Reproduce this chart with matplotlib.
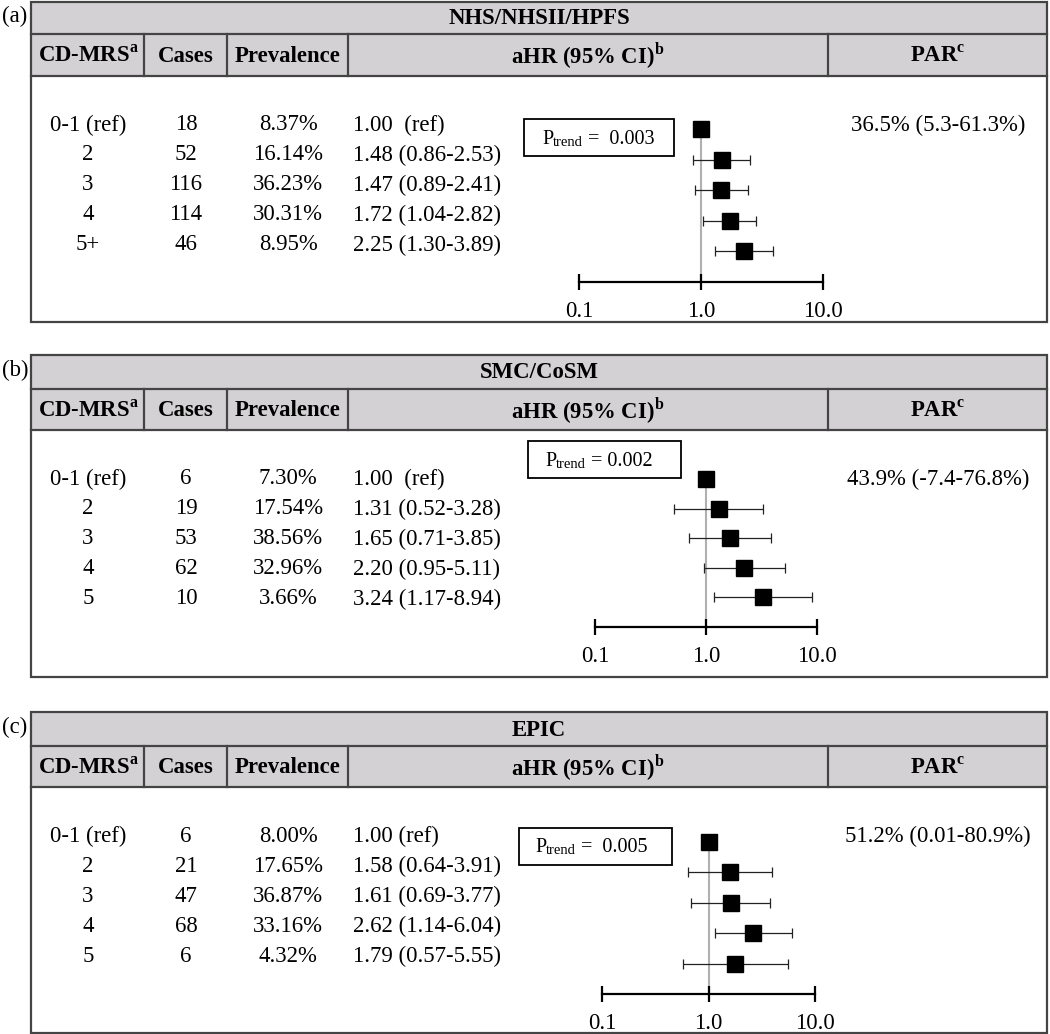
import matplotlib
matplotlib.use('Agg')
import matplotlib.pyplot as plt
from matplotlib.patches import Rectangle

plt.rcParams['font.family'] = ['Liberation Serif', 'DejaVu Serif']
plt.rcParams['mathtext.fontset'] = 'custom'
plt.rcParams['mathtext.rm'] = 'Liberation Serif'
plt.rcParams['mathtext.bf'] = 'Liberation Serif:bold'

# ---- data ----
cohorts = ['NHS/NHSII/HPFS', 'SMC/CoSM', 'EPIC']
panel_tags = ['(a)', '(b)', '(c)']
col_headers = ['CD-MRS$^{\\mathbf{a}}$', 'Cases', 'Prevalence',
               'aHR (95% CI)$^{\\mathbf{b}}$', 'PAR$^{\\mathbf{c}}$']

scores = [['0-1 (ref)', '2', '3', '4', '5+'],
          ['0-1 (ref)', '2', '3', '4', '5'],
          ['0-1 (ref)', '2', '3', '4', '5']]
cases = [[18, 52, 116, 114, 46],
         [6, 19, 53, 62, 10],
         [6, 21, 47, 68, 6]]
prevalence = [[8.37, 16.14, 36.23, 30.31, 8.95],
              [7.30, 17.54, 38.56, 32.96, 3.66],
              [8.00, 17.65, 36.87, 33.16, 4.32]]
hr = [[1.00, 1.48, 1.47, 1.72, 2.25],
      [1.00, 1.31, 1.65, 2.20, 3.24],
      [1.00, 1.58, 1.61, 2.62, 1.79]]
ci_lo = [[1.00, 0.86, 0.89, 1.04, 1.30],
         [1.00, 0.52, 0.71, 0.95, 1.17],
         [1.00, 0.64, 0.69, 1.14, 0.57]]
ci_hi = [[1.00, 2.53, 2.41, 2.82, 3.89],
         [1.00, 3.28, 3.85, 5.11, 8.94],
         [1.00, 3.91, 3.77, 6.04, 5.55]]
ref_labels = ['1.00  (ref)', '1.00  (ref)', '1.00 (ref)']
p_trend = ['=  0.003', '= 0.002', '=  0.005']
par = ['36.5% (5.3-61.3%)', '43.9% (-7.4-76.8%)', '51.2% (0.01-80.9%)']
axis_ticks = [0.1, 1.0, 10.0]
axis_labels = ['0.1', '1.0', '10.0']

# ---- layout in pixels (1050 x 1034 canvas) ----
W, H = 1050, 1034
box_left, box_right = 31, 1047
col_div = [144, 227, 348, 828]
col_centers = [88, 186, 288, 588, 938]
panel_rows = [(2, 34, 76, 322), (355, 389, 430, 677), (712, 746, 787, 1033)]
text_row0 = [125, 479, 836]
row_step = 30
forest_x = [(579, 823), (595, 817), (602, 815)]
forest_y = [(129, 282), (479, 627), (842, 994)]
pbox = [(524, 119, 674, 156), (528, 441, 681, 478), (519, 828, 672, 865)]
ptext_x = [542, 545, 535]

FS = 16.4
edge = '#444444'
fill = '#d3d1d3'

fig = plt.figure(figsize=(W / 100, H / 100), dpi=100)
bg = fig.add_axes([0, 0, 1, 1])
bg.set_xlim(0, W)
bg.set_ylim(H, 0)
bg.axis('off')

for p in range(3):
    top, t_bot, h_bot, bot = panel_rows[p]
    # grey title + header rows
    bg.add_patch(Rectangle((box_left, top), box_right - box_left, h_bot - top,
                           facecolor=fill, edgecolor='none', zorder=1))
    bg.add_patch(Rectangle((box_left, top), box_right - box_left, bot - top,
                           facecolor='none', edgecolor=edge, lw=1.6, zorder=3))
    bg.plot([box_left, box_right], [t_bot, t_bot], color=edge, lw=1.6, zorder=3)
    bg.plot([box_left, box_right], [h_bot, h_bot], color=edge, lw=1.6, zorder=3)
    for xd in col_div:
        bg.plot([xd, xd], [t_bot, h_bot], color=edge, lw=1.6, zorder=3)

    bg.text(15, (top + t_bot) / 2 - 2, panel_tags[p], fontsize=FS,
            ha='center', va='center')
    bg.text((box_left + box_right) / 2, (top + t_bot) / 2 + 1, cohorts[p],
            fontsize=FS, fontweight='bold', ha='center', va='center')
    for cx, lab in zip(col_centers, col_headers):
        bg.text(cx, (t_bot + h_bot) / 2 + 1, lab, fontsize=FS, fontweight='bold',
                ha='center', va='center')

    # table body
    for i in range(5):
        y = text_row0[p] + i * row_step
        bg.text(col_centers[0], y, scores[p][i], fontsize=FS, ha='center', va='center')
        bg.text(col_centers[1], y, str(cases[p][i]), fontsize=FS, ha='center', va='center')
        bg.text(col_centers[2], y, f'{prevalence[p][i]:.2f}%', fontsize=FS,
                ha='center', va='center')
        if i == 0:
            lab = ref_labels[p]
        else:
            lab = f'{hr[p][i]:.2f} ({ci_lo[p][i]:.2f}-{ci_hi[p][i]:.2f})'
        bg.text(353, y, lab, fontsize=FS, ha='left', va='center')
    bg.text(col_centers[4], text_row0[p], par[p], fontsize=FS, ha='center', va='center')

    # P-trend box
    x0, y0, x1, y1 = pbox[p]
    bg.add_patch(Rectangle((x0, y0), x1 - x0, y1 - y0, facecolor='white',
                           edgecolor='black', lw=1.3, zorder=3))
    t1 = bg.text(ptext_x[p], (y0 + y1) / 2 + 1.5, 'P', fontsize=14.5, va='center', zorder=4)
    t2 = bg.annotate('trend', xy=(1, 0), xycoords=t1, fontsize=10.5,
                     va='bottom', ha='left', zorder=4)
    bg.annotate(' ' + p_trend[p], xy=(1, 0), xycoords=t2, fontsize=14.5,
                va='bottom', ha='left', zorder=4)

    # forest plot on its own log axis
    xa, xb = forest_x[p]
    ya, yb = forest_y[p]
    step = (yb - ya) / 5
    ax_top = ya - 0.6 * step
    fx = fig.add_axes([xa / W, 1 - yb / H, (xb - xa) / W, (yb - ax_top) / H])
    fx.set_xscale('log')
    fx.set_xlim(0.1, 10)
    fx.set_ylim(5, -0.6)
    fx.patch.set_alpha(0)
    for s in ['left', 'top', 'right']:
        fx.spines[s].set_visible(False)
    fx.spines['bottom'].set_linewidth(1.6)
    fx.set_yticks([])
    fx.set_xticks(axis_ticks, labels=axis_labels)
    fx.minorticks_off()
    fx.tick_params(axis='x', direction='inout', length=11, width=1.6,
                   pad=8.5, labelsize=FS)
    fx.vlines(1.0, 0, 5, colors='#b0b0b0', lw=1.5, zorder=1)
    yy = list(range(5))
    err = [[h - l for h, l in zip(hr[p], ci_lo[p])],
           [u - h for h, u in zip(hr[p], ci_hi[p])]]
    fx.errorbar(hr[p], yy, xerr=err, fmt='s', ms=11.5, mfc='black', mec='black',
                ecolor='#222222', elinewidth=0.9, capsize=3.8, capthick=0.9,
                zorder=3, clip_on=False)

fig.savefig('out.png', dpi=100)
